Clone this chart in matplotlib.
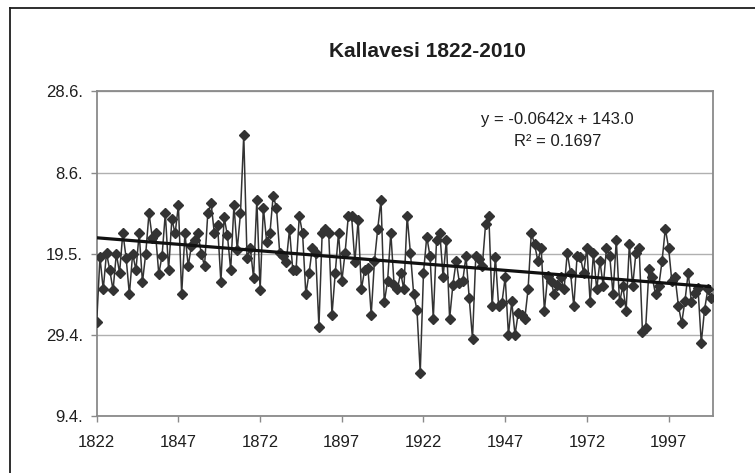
import matplotlib
matplotlib.use("Agg")
import matplotlib.pyplot as plt
from matplotlib.lines import Line2D
import numpy as np

plt.rcParams['font.family'] = ['Liberation Sans', 'DejaVu Sans']

# ---- data -------------------------------------------------------------
title = "Kallavesi 1822-2010"
years = list(range(1822, 2011))
# ice break-up date as day of year (non-leap)
breakup_day = [
    122.1, 138.2, 130.2, 139.2, 135.0, 130.0, 139.0, 134.3, 144.2, 138.0,  # 1822-1831
    129.0, 139.0, 135.0, 144.0, 132.0, 139.0, 149.0, 143.0, 144.0, 134.0,  # 1832-1841
    138.5, 149.0, 135.0, 147.5, 144.0, 151.0, 129.0, 144.0, 136.0, 141.0,  # 1842-1851
    142.5, 144.0, 139.0, 136.0, 149.0, 151.5, 144.0, 146.0, 132.0, 148.0,  # 1852-1861
    143.5, 135.0, 151.0, 140.0, 149.0, 168.3, 138.0, 140.5, 133.0, 152.3,  # 1862-1871
    130.0, 150.4, 142.0, 144.0, 153.3, 150.4, 139.2, 138.5, 137.0, 145.0,  # 1872-1881
    135.0, 135.0, 148.3, 144.0, 129.0, 134.3, 140.5, 139.2, 121.0, 144.2,  # 1882-1891
    145.0, 144.0, 124.0, 134.3, 144.2, 132.2, 139.2, 148.3, 148.3, 137.0,  # 1892-1901
    147.3, 130.2, 135.1, 135.5, 124.0, 137.2, 145.2, 152.3, 127.0, 132.2,  # 1902-1911
    144.2, 131.4, 130.2, 134.3, 130.2, 148.3, 139.2, 129.0, 125.2, 109.7,  # 1912-1921
    134.3, 143.2, 138.4, 123.0, 142.5, 144.2, 133.2, 142.4, 123.0, 131.4,  # 1922-1931
    137.2, 131.8, 132.2, 138.4, 128.0, 118.0, 138.4, 137.6, 136.0, 146.3,  # 1932-1941
    148.3, 126.0, 138.2, 126.0, 126.9, 133.2, 119.0, 127.3, 119.0, 124.4,  # 1942-1951
    124.0, 123.0, 130.2, 144.2, 141.3, 137.2, 140.5, 125.0, 133.5, 132.2,  # 1952-1961
    129.0, 131.4, 133.2, 130.2, 139.2, 134.3, 126.0, 138.4, 138.2, 134.3,  # 1962-1971
    140.5, 127.0, 139.2, 130.2, 137.2, 131.0, 140.5, 138.4, 129.0, 142.4,  # 1972-1981
    127.0, 131.0, 125.0, 141.3, 131.0, 139.2, 140.5, 119.8, 120.8, 135.3,  # 1982-1991
    133.2, 129.0, 131.0, 137.2, 145.2, 140.5, 132.2, 133.2, 126.2, 121.9,  # 1992-2001
    127.3, 134.3, 127.0, 129.3, 130.6, 117.0, 125.2, 130.2, 128.1,         # 2002-2010
]
# linear trend as printed on the chart (x = 1 .. n)
trend_slope = -0.0642
trend_intercept = 143.0
r_squared = 0.1697

x_tick_years = [1822, 1847, 1872, 1897, 1922, 1947, 1972, 1997]
y_tick_days = [99, 119, 139, 159, 179]
y_tick_labels = ["9.4.", "29.4.", "19.5.", "8.6.", "28.6."]

# ---- figure -----------------------------------------------------------
W, H = 755, 473
fig = plt.figure(figsize=(W / 100, H / 100), dpi=100)
fig.patch.set_facecolor('white')

# outer chart frame (top and left edges visible)
frame_kw = dict(color='#1e1e1e', lw=1.3, transform=fig.transFigure)
fig.add_artist(Line2D([10 / W, 1.0], [1 - 8 / H, 1 - 8 / H], **frame_kw))
fig.add_artist(Line2D([10 / W, 10 / W], [1 - 8 / H, 0.0], **frame_kw))

left, right, top, bottom = 96.7, 712.7, 91.5, 416.0
ax = fig.add_axes([left / W, 1 - bottom / H, (right - left) / W, (bottom - top) / H])

yrs = np.array(years)
vals = np.array(breakup_day)
ax.plot(yrs, vals, color='#333333', lw=1.1, marker='D', markersize=4.6,
        markerfacecolor='#333333', markeredgecolor='#333333', zorder=3)

idx = np.arange(1, len(yrs) + 1)
trend = trend_slope * idx + trend_intercept
ax.plot(yrs, trend, color='#111111', lw=2.3, zorder=4, solid_capstyle='butt')

ax.set_xlim(1822, 2010.5)
ax.set_ylim(99, 179)
ax.set_xticks(x_tick_years)
ax.set_xticklabels([str(y) for y in x_tick_years])
ax.set_yticks(y_tick_days)
ax.set_yticklabels(y_tick_labels)

ax.grid(axis='y', color='#b0b0b0', lw=1.0)
ax.set_axisbelow(True)
for s in ax.spines.values():
    s.set_color('#8a8a8a')
    s.set_linewidth(1.3)

ax.tick_params(axis='both', colors='#8a8a8a', labelcolor='#1e1e1e',
               labelsize=12, length=4, width=1.0, direction='out')
ax.tick_params(axis='x', pad=10)
ax.tick_params(axis='y', pad=6)

fig.text(427 / W, 1 - 56.7 / H, title, ha='center', va='baseline',
         fontsize=15, fontweight='bold', color='#1e1e1e')
fig.text(557.7 / W, 1 - 124 / H, "y = -0.0642x + 143.0", ha='center',
         va='baseline', fontsize=12, color='#1e1e1e')
fig.text(557.7 / W, 1 - 146 / H, "R² = %.4f" % r_squared, ha='center',
         va='baseline', fontsize=12, color='#1e1e1e')

fig.savefig('out.png', dpi=100, facecolor='white')
